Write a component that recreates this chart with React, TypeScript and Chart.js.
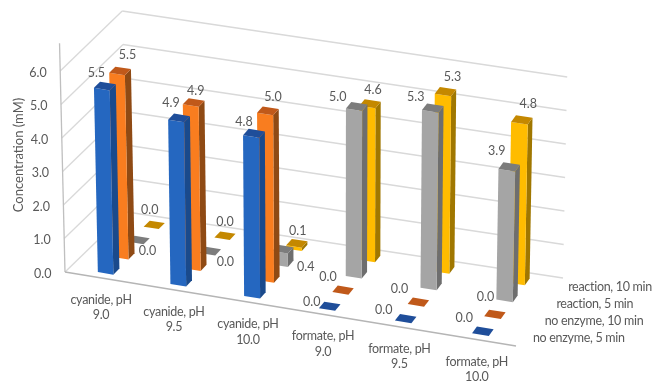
import React, { useEffect, useRef } from "react";
import { Chart, registerables } from "chart.js";

Chart.register(...registerables);

const categories = [
  ["cyanide, pH", "9.0"],
  ["cyanide, pH", "9.5"],
  ["cyanide, pH", "10.0"],
  ["formate, pH", "9.0"],
  ["formate, pH", "9.5"],
  ["formate, pH", "10.0"],
];
const seriesNames = ["no enzyme, 5 min", "no enzyme, 10 min", "reaction, 5 min", "reaction, 10 min"];
const noEnzyme5 = [5.5, 4.9, 4.8, 0.0, 0.0, 0.0];
const noEnzyme10 = [5.5, 4.9, 5.0, 0.0, 0.0, 0.0];
const reaction5 = [0.0, 0.0, 0.4, 5.0, 5.3, 3.9];
const reaction10 = [0.0, 0.0, 0.1, 4.6, 5.3, 4.8];
const seriesValues = [noEnzyme5, noEnzyme10, reaction5, reaction10];

// front, right side, top
const seriesShades = [
  ["#2567C0", "#1A4A8C", "#1F4E9A"],
  ["#F97D1F", "#8F4A14", "#C0591A"],
  ["#A5A5A5", "#6E6E6E", "#7C7C7C"],
  ["#FFBC00", "#A07700", "#C48800"],
];

// Where each value label sits relative to the centre of its bar's top, by series then category.
const labelNudges = [
  [[-8.5, -13], [-8, -15], [-10, -11], [-18, -4], [-22, -9], [-18.5, -13]],
  [[7.5, -16], [2, -12], [5, -14], [-15, -13], [-19, -13], [-9.5, -17]],
  [[8.5, 11], [15, 11], [23, 18], [-19, -10], [-17, -11], [-12.5, -16]],
  [[-4.5, -15], [0, -14], [1, -12], [3, -14], [7, -15], [6.5, -16]],
];

// Floor corners of the box on screen.
const floor = {
  frontLeft: [65, 272],
  frontRight: [516, 346],
  backRight: [563, 278],
  backLeft: [127, 212],
};
const PX_PER_UNIT = 33.5;
const AXIS_OVERSHOOT = 6.83;
const BAR_DEPTH = 0.1;
const FORESHORTEN = 0.047;
const FONT = "12.5px Lato";
const TEXT = "#595959";

const lean = (u: number) => -0.8 + 1.5 * u;

// The far end of the category axis is closer to the camera's left, so spacing grows to the right.
const foreshorten = (u: number) => u / (1 + FORESHORTEN * (1 - u));

function onFloor(u: number, w: number) {
  const { frontLeft: a, frontRight: b, backRight: c, backLeft: d } = floor;
  const fx = a[0] + (b[0] - a[0]) * u;
  const fy = a[1] + (b[1] - a[1]) * u;
  const bx = d[0] + (c[0] - d[0]) * u;
  const by = d[1] + (c[1] - d[1]) * u;
  return [fx + (bx - fx) * w, fy + (by - fy) * w];
}

const box3d = {
  id: "box3d",
  beforeDatasetsDraw(chart: any) {
    const { ctx, chartArea: area, scales } = chart;
    const xs = scales.x;
    const ys = scales.y;

    // Maps a pixel on the chart's flat plane plus a depth (0 front, 1 back) into the box.
    const project = (px: number, py: number, w: number) => {
      const u = foreshorten((px - area.left) / area.width);
      const lift = area.bottom - py;
      const [x, y] = onFloor(u, w);
      return [x + (lean(u) * lift) / PX_PER_UNIT, y - lift];
    };
    const line = (p: number[], q: number[], color: string, width: number) => {
      ctx.strokeStyle = color;
      ctx.lineWidth = width;
      ctx.beginPath();
      ctx.moveTo(p[0], p[1]);
      ctx.lineTo(q[0], q[1]);
      ctx.stroke();
    };
    const face = (pts: number[][], color: string) => {
      ctx.fillStyle = color;
      ctx.beginPath();
      pts.forEach((p, i) => (i ? ctx.lineTo(p[0], p[1]) : ctx.moveTo(p[0], p[1])));
      ctx.closePath();
      ctx.fill();
    };

    ctx.save();
    ctx.fillStyle = "#FFFFFF";
    ctx.fillRect(0, 0, chart.width, chart.height);

    // Gridlines on the back wall and the left wall.
    ys.ticks.forEach((t: any) => {
      const py = ys.getPixelForValue(t.value);
      const wallColor = "#D9D9D9";
      line(project(area.left, py, 1), project(area.right, py, 1), wallColor, 1.3);
      line(project(area.left, py, 0), project(area.left, py, 1), wallColor, 1.3);
    });

    // Axis lines.
    const overshoot = ys.getPixelForValue(AXIS_OVERSHOOT);
    line(project(area.left, area.bottom, 0), project(area.left, overshoot, 0), "#BFBFBF", 1.3);
    line(project(area.left, area.bottom, 0), project(area.right, area.bottom, 0), "#B5B5B5", 1.3);

    // Bars, back row first so nearer rows overlap them.
    const rows = seriesValues.length;
    for (let s = rows - 1; s >= 0; s--) {
      const bars = chart.getDatasetMeta(s).data;
      const w0 = (s + 0.5) / rows - BAR_DEPTH / 2;
      const w1 = w0 + BAR_DEPTH;
      const [front, side, top] = seriesShades[s];
      bars.forEach((bar: any) => {
        const l = bar.x - bar.width / 2;
        const r = bar.x + bar.width / 2;
        const fl0 = project(l, bar.base, w0);
        const fr0 = project(r, bar.base, w0);
        const br0 = project(r, bar.base, w1);
        const fl1 = project(l, bar.y, w0);
        const fr1 = project(r, bar.y, w0);
        const br1 = project(r, bar.y, w1);
        const bl1 = project(l, bar.y, w1);
        face([fr0, br0, br1, fr1], side);
        face([fl0, fr0, fr1, fl1], front);
        face([fl1, fr1, br1, bl1], top);
      });
    }

    ctx.font = FONT;
    ctx.fillStyle = TEXT;
    ctx.textBaseline = "middle";

    // Value labels.
    ctx.textAlign = "center";
    seriesValues.forEach((values, s) => {
      const bars = chart.getDatasetMeta(s).data;
      values.forEach((v, c) => {
        const p = project(bars[c].x, ys.getPixelForValue(v), (s + 0.5) / rows);
        ctx.fillText(v.toFixed(1), p[0] + labelNudges[s][c][0], p[1] + labelNudges[s][c][1]);
      });
    });

    // Value axis labels.
    ctx.textAlign = "right";
    ys.ticks.forEach((t: any) => {
      const p = project(area.left, ys.getPixelForValue(t.value), 0);
      ctx.fillText(t.value.toFixed(1), p[0] - 13.5, p[1] + 1.5);
    });

    // Category labels under the front edge, set slightly tighter.
    ctx.letterSpacing = "-0.3px";
    ctx.textAlign = "center";
    categories.forEach((lines, c) => {
      const p = project(xs.getPixelForValue(c), area.bottom, 0);
      lines.forEach((text, i) => ctx.fillText(text, p[0], p[1] + 22 + i * 15.5));
    });

    // Series names along the depth edge.
    ctx.textAlign = "left";
    seriesNames.forEach((name, s) => {
      const p = project(area.right, area.bottom, (s + 0.5) / rows);
      ctx.fillText(name, p[0] + 11, p[1]);
    });
    ctx.letterSpacing = "0px";

    // Value axis title.
    ctx.save();
    ctx.font = "13px Lato";
    ctx.translate(18.5, 155);
    ctx.rotate(-Math.PI / 2);
    ctx.textAlign = "center";
    ctx.fillText("Concentration (mM)", 0, 0);
    ctx.restore();

    ctx.restore();
    return false;
  },
};

export default function App() {
  const canvasRef = useRef<HTMLCanvasElement>(null);

  useEffect(() => {
    const chart = new Chart(canvasRef.current!, {
      type: "bar",
      data: {
        labels: categories as any,
        datasets: seriesNames.map((label, s) => ({
          label,
          data: seriesValues[s],
          grouped: false,
          barPercentage: 1,
          categoryPercentage: 0.215,
        })),
      },
      options: {
        responsive: false,
        animation: false,
        layout: { padding: { left: 65, right: 136, top: 71, bottom: 110 } },
        plugins: { legend: { display: false }, tooltip: { enabled: false } },
        scales: {
          x: { display: false, grid: { display: false } },
          y: { display: false, min: 0, max: 6, ticks: { stepSize: 1 } },
        },
      },
      plugins: [box3d],
    } as any);
    return () => chart.destroy();
  }, []);

  return (
    <div style={{ position: "fixed", left: 0, top: 0, width: 652, height: 382, background: "#fff" }}>
      <canvas ref={canvasRef} width={652} height={382} style={{ display: "block" }} />
    </div>
  );
}
